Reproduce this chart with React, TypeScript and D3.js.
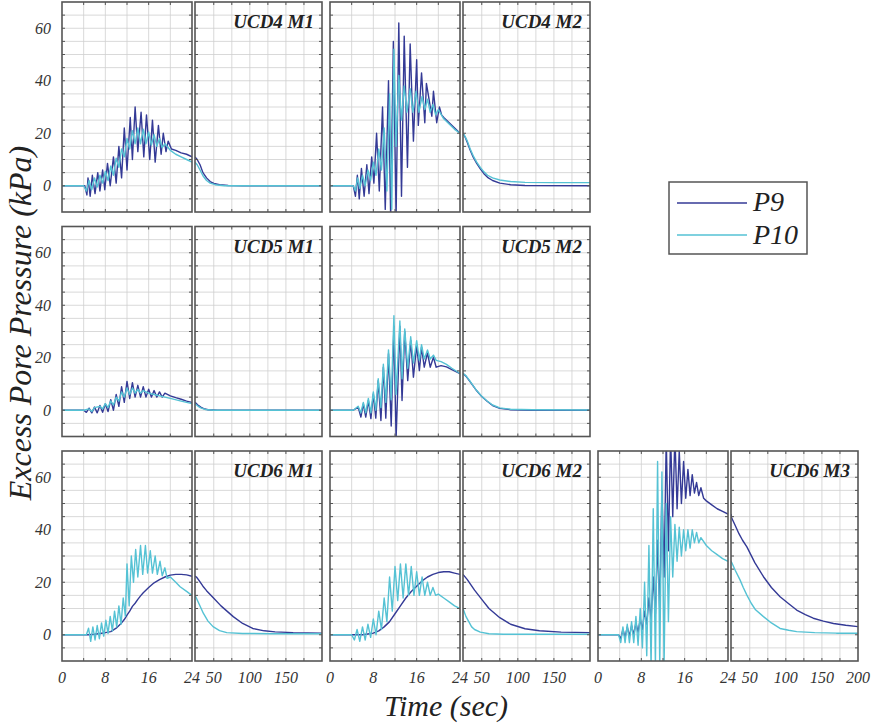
import React from 'react';
import * as d3 from 'd3';

type Pt = [number, number];

// ---------- axis / label data ----------
const Y_TICKS = [0, 20, 40, 60];
const X_TICKS_LEFT = [0, 8, 16, 24];
const X_TICKS_RIGHT = [50, 100, 150];
const X_TICKS_RIGHT_LAST = [50, 100, 150, 200];
const SERIES_NAMES = ['P9', 'P10'];
const PANEL_NAMES = ['UCD4 M1', 'UCD4 M2', 'UCD5 M1', 'UCD5 M2', 'UCD6 M1', 'UCD6 M2', 'UCD6 M3'];
const Y_TITLE = 'Excess Pore Pressure (kPa)';
const X_TITLE = 'Time (sec)';

// ---------- series data: [time (s), excess pore pressure (kPa)] ----------
const UCD4_M1_P9: Pt[] = [
  [0, 0], [4.2, 0], [4.6, -3.5], [4.8, 3], [5.2, -4], [5.6, 4], [6.1, -3], [6.6, 5], [7.0, -2], [7.5, 6],
  [7.9, -1.5], [8.4, 8.5], [8.9, 0], [9.5, 11], [10.0, 1], [10.5, 15], [11.0, 3], [11.5, 22], [12.0, 6],
  [12.6, 26], [13.0, 10], [13.5, 30], [14.0, 13], [14.6, 28], [15.1, 11], [15.6, 27], [16.2, 10], [16.7, 25],
  [17.2, 9], [17.8, 23], [18.3, 12], [18.7, 20], [19.2, 13], [19.6, 17], [20.2, 14], [21, 13.5], [22, 12.5],
  [23, 12], [24, 11], [27, 10], [31, 8], [35, 5], [40, 3], [45, 1.6], [50, 0.9], [58, 0.4], [70, 0.1], [90, 0], [200, 0],
];
const UCD4_M1_P10: Pt[] = [
  [0, 0], [4, 0], [4.5, -2], [5, 2], [5.5, -1.5], [6, 3], [6.5, -0.5], [7, 4], [7.5, 1], [8, 5.5], [8.5, 2],
  [9, 7.5], [9.5, 4], [10, 10.5], [10.5, 7], [11, 14], [11.5, 11], [12, 18], [12.5, 14], [13, 21], [13.5, 16],
  [14, 22], [14.5, 16], [15, 21.5], [15.5, 16], [16, 20.5], [16.5, 15.5], [17, 19.5], [17.5, 15], [18, 18],
  [18.5, 14.5], [19, 16], [20, 13.5], [21, 12], [22, 11], [23, 10], [24, 9], [27, 8], [31, 6], [35, 3.8],
  [40, 2], [45, 1], [52, 0.4], [65, 0], [200, 0],
];
const UCD4_M2_P9: Pt[] = [
  [0, 0], [4.3, 0], [4.7, -4], [5.05, 4], [5.4, -5], [5.8, 6.6], [6.3, -4], [6.8, 8], [7.2, -3], [7.7, 11],
  [8.1, 1], [8.6, 20], [9.1, -2], [9.7, 30], [10.2, -9], [10.8, 40], [11.2, -12], [11.7, 55], [12.2, -12],
  [12.7, 62], [13.2, -4], [13.7, 57], [14.3, 7], [14.8, 54], [15.4, 17], [16.0, 48], [16.3, 23], [16.9, 43],
  [17.5, 24], [17.8, 39], [18.8, 26.5], [19.1, 36], [19.7, 24], [20.2, 30], [20.6, 27], [21, 26], [22, 24],
  [23, 22], [24, 20], [27, 18.5], [30, 16.5], [34, 13.5], [38, 11], [43, 8.5], [48, 6.4], [53, 4.6], [58, 3.2],
  [65, 2], [75, 1], [90, 0.4], [110, 0.1], [200, 0],
];
const UCD4_M2_P10: Pt[] = [
  [0, 0], [4.3, 0], [4.7, -2], [5.1, 3], [5.5, -1], [6, 4], [6.5, 0], [7, 6], [7.5, 2], [8, 9], [8.5, 4],
  [9, 14], [9.5, 6], [10, 22], [10.5, -2], [11, 35], [11.4, -9], [11.8, 52], [12.2, 15], [12.7, 42], [13.2, 25],
  [13.7, 38], [14.2, 28], [14.8, 37], [15.3, 28], [15.9, 36], [16.4, 28], [17, 34], [17.5, 29], [18, 33],
  [18.5, 28], [19, 31], [19.5, 27], [20, 29], [21, 25.5], [22, 23.5], [23, 21.5], [24, 20], [27, 18.7],
  [30, 17], [34, 14], [38, 11.5], [43, 9], [48, 7], [53, 5.3], [58, 4], [65, 3], [75, 2.2], [90, 1.6],
  [110, 1.3], [150, 1.2], [200, 1.2],
];
const UCD5_M1_P9: Pt[] = [
  [0, 0], [4, 0], [4.5, -0.8], [5, 0.8], [5.5, -1], [6, 1.2], [6.5, -1], [7, 1.8], [7.5, -0.8], [8, 2.5],
  [8.5, -0.5], [9, 4], [9.5, 0], [10, 6], [10.5, 1.5], [11, 9], [11.5, 3], [12, 11], [12.5, 4.5], [13, 10.5],
  [13.5, 5], [14, 9.5], [14.5, 5], [15, 9], [15.5, 5], [16, 8], [16.5, 5], [17, 7.5], [17.5, 5], [18, 7],
  [18.5, 5], [19, 6.5], [20, 5.5], [21, 4.8], [22, 4.2], [23, 3.5], [24, 3], [28, 2], [32, 1.2], [36, 0.6],
  [42, 0.2], [55, 0], [200, 0],
];
const UCD5_M1_P10: Pt[] = [
  [0, 0], [4, 0], [5, 0.5], [5.5, -0.5], [6, 1], [7, 1.5], [7.5, 0.5], [8, 2.5], [8.5, 1], [9, 3.5], [9.5, 2],
  [10, 5], [10.5, 3.5], [11, 7], [11.5, 5], [12, 8.5], [12.5, 6], [13, 8.5], [13.5, 6.5], [14, 8], [14.5, 6.5],
  [15, 7.5], [16, 6.5], [17, 6], [18, 5.5], [19, 5], [20, 4.5], [22, 3.5], [24, 2.5], [28, 1.6], [32, 0.9],
  [38, 0.3], [50, 0], [200, 0],
];
const UCD5_M2_P9: Pt[] = [
  [0, 0], [4.3, 0], [5.2, 1.2], [5.7, -2.6], [6.15, 2.4], [6.6, -2.6], [7.08, 3.7], [7.55, -3.2], [8.0, 6.2],
  [8.45, -3], [8.9, 11.3], [9.4, -3.9], [9.85, 16.4], [10.3, -3], [10.8, 21.5], [11.3, -6], [11.8, 32],
  [12.2, -11], [12.9, 32], [13.3, 3.7], [13.8, 30], [14.35, 11.3], [14.9, 26.6], [15.4, 12.6], [16, 24.7],
  [16.5, 15.1], [16.9, 24], [17.4, 16.4], [18, 22], [18.5, 16.4], [19.1, 20.2], [19.6, 16.4], [20.5, 17],
  [21.5, 16.5], [22.5, 15.5], [24, 14], [28, 13], [33, 11.2], [38, 9.3], [43, 7.4], [50, 5.2], [57, 3.5],
  [65, 1.8], [75, 0.7], [90, 0.2], [120, 0], [200, 0],
];
const UCD5_M2_P10: Pt[] = [
  [0, 0], [4.3, 0], [5.2, 1.5], [5.7, -1], [6.15, 3], [6.6, -1], [7.08, 4.5], [7.55, -1], [8.0, 7], [8.45, 0],
  [8.9, 12], [9.4, 1], [9.85, 17.5], [10.3, 3], [10.8, 23], [11.3, 4], [11.8, 36], [12.2, 6], [12.9, 34],
  [13.3, 12], [13.8, 31], [14.35, 16], [14.9, 28], [15.4, 18], [16, 26.5], [16.5, 19], [16.9, 25], [17.4, 19.5],
  [18, 23], [18.5, 19.5], [19.1, 21], [19.6, 19], [20.5, 18.5], [21.5, 17.5], [22.5, 16], [24, 14], [28, 13.2],
  [33, 11.4], [38, 9.4], [43, 7.5], [50, 5.3], [57, 3.6], [65, 2], [75, 0.9], [90, 0.4], [120, 0.2], [200, 0.1],
];
const UCD6_M1_P9: Pt[] = [
  [0, 0], [5, 0], [6, 0.2], [7, 0.5], [8, 0.8], [9, 1.2], [10, 2.5], [11, 4.5], [11.5, 5.8], [12, 7.5],
  [12.5, 9], [13, 10.8], [13.5, 12], [14, 13.5], [14.5, 14.8], [15, 16], [16, 18], [17, 19.8], [18, 21],
  [19, 22], [20, 22.7], [21, 23], [22, 23], [23, 22.8], [24, 22.3], [26, 22], [30, 20.5], [35, 18.5],
  [40, 16.8], [49, 14.2], [60, 11], [77, 6.9], [90, 4.3], [104, 2.4], [120, 1.5], [135, 1.1], [160, 0.8], [200, 0.6],
];
const UCD6_M1_P10: Pt[] = [
  [0, 0], [4.5, 0], [4.9, 2.5], [5.3, -2.5], [5.7, 3], [6.1, -2], [6.5, 3.5], [6.9, -1.5], [7.3, 4.5],
  [7.7, -0.5], [8.1, 5.5], [8.5, 0.5], [8.9, 7], [9.3, 1.5], [9.7, 9], [10.1, 3], [10.5, 11], [10.9, 4],
  [11.3, 14], [11.7, 7], [12.0, 27], [12.4, 11], [12.8, 30], [13.2, 20], [13.6, 32.5], [14.0, 22], [14.5, 34],
  [14.9, 23], [15.4, 34], [15.8, 23.5], [16.3, 32], [16.7, 23.5], [17.2, 30], [17.6, 23], [18.1, 28],
  [18.5, 22.5], [19, 25.5], [19.4, 21.5], [20, 22], [21, 20], [21.8, 18.3], [23, 16.5], [24, 15], [26, 13.9],
  [30, 11.5], [35.5, 8.2], [42, 5.2], [49, 3.1], [58, 1.6], [68, 0.8], [90, 0.5], [130, 0.4], [200, 0.4],
];
const UCD6_M2_P9: Pt[] = [
  [0, 0], [6, 0], [7, 0.3], [8, 0.6], [9, 1.5], [10, 3], [11, 5], [12, 8], [13, 11], [14, 14], [15, 16.5],
  [16, 18.5], [17, 20.5], [18, 22], [19, 23], [20, 23.7], [21, 24], [22, 24], [23, 23.5], [24, 23], [30, 21],
  [40, 17], [50, 13.5], [60, 10], [75, 6.5], [90, 4], [110, 2.3], [130, 1.5], [160, 1], [200, 0.8],
];
const UCD6_M2_P10: Pt[] = [
  [0, 0], [4, 0], [4.5, -2], [5, 2], [5.5, -2.5], [6, 3], [6.5, -2], [7, 4], [7.5, -1], [8, 6], [8.5, 0],
  [9, 9], [9.5, 2], [10, 14], [10.5, 5], [11, 22], [11.5, 9], [12, 26], [12.5, 13], [13, 27], [13.5, 14],
  [14, 27], [14.5, 15], [15, 26], [15.5, 15], [16, 24], [16.5, 15], [17, 22], [17.5, 15], [18, 20], [18.5, 15],
  [19, 18], [19.5, 15], [20, 15.5], [21, 14], [22, 12.5], [23, 11], [24, 10], [28, 7], [32, 5], [36, 3],
  [40, 2], [48, 1], [60, 0.4], [80, 0.2], [200, 0.2],
];
const UCD6_M3_P9: Pt[] = [
  [0, 0], [3.8, 0], [4.2, -1.5], [4.6, 2], [5.0, -1], [5.4, 3], [5.8, -0.5], [6.2, 3.5], [6.6, 0], [7, 4.5],
  [7.4, 1], [7.8, 6], [8.2, 2], [8.6, 9], [9, 4], [9.4, 14], [9.8, 6], [10.2, 22], [10.6, 8], [11, 36],
  [11.4, 9], [11.8, 55], [12.2, 22], [12.6, 75], [13, 32], [13.4, 76], [13.8, 45], [14.2, 76], [14.6, 48],
  [15, 70], [15.4, 50], [15.8, 66], [16.2, 52], [16.6, 63], [17, 53], [17.4, 61], [17.8, 54], [18.2, 58],
  [18.6, 53], [19, 56], [19.5, 52], [20, 51], [21, 49.5], [22, 48], [23, 47], [24, 46], [25, 44.5], [30, 41.5],
  [35, 38.5], [40, 36], [46, 33.5], [57, 27.5], [69, 22.1], [80, 18], [92, 14.5], [104, 11.8], [115, 9.4],
  [127, 7.7], [138, 6.3], [152, 5.2], [166, 4.3], [183, 3.6], [200, 3.1],
];
const UCD6_M3_P10: Pt[] = [
  [0, 0], [3.8, 0], [4.2, -3], [4.6, 3], [5.0, -3], [5.4, 4], [5.8, -3], [6.2, 5], [6.6, -3], [7, 7],
  [7.4, -4], [7.8, 10], [8.2, -5], [8.6, 20], [9, -8], [9.4, 34], [9.8, -12], [10.2, 48], [10.6, -12],
  [11, 66], [11.4, -12], [11.8, 62], [12.2, -12], [12.6, 50], [13, 5], [13.4, 45], [13.8, 22], [14.2, 42],
  [14.6, 28], [15, 41], [15.4, 30], [15.8, 40], [16.2, 32], [16.6, 40], [17, 33], [17.4, 40], [17.8, 35],
  [18.2, 39], [18.6, 35], [19, 37], [20, 34], [21, 32], [22, 30.5], [23, 29], [24, 28], [25, 27.5], [30, 24.5],
  [36.5, 20.9], [41, 18], [46, 15.1], [52, 12], [58, 9.5], [69, 6.9], [80, 4.5], [92, 2.4], [104, 1.7],
  [115, 1.2], [140, 0.8], [170, 0.6], [200, 0.6],
];

const P9_COLOR = '#343a96';
const P10_COLOR = '#55c2d4';

const fontShort = (size: number, bold = false) =>
  ({ font: `italic ${bold ? 'bold ' : ''}${size}px 'Liberation Serif', serif` });

export default function App() {
  const W = 878, H = 724;
  const colX0 = [62, 330, 598];
  const rowY0 = [2, 226.5, 451];
  const leftW = 130, gap = 3, rightW = 127, panelH = 210;

  const panels = [
    { name: PANEL_NAMES[0], row: 0, col: 0, s: [UCD4_M1_P9, UCD4_M1_P10] },
    { name: PANEL_NAMES[1], row: 0, col: 1, s: [UCD4_M2_P9, UCD4_M2_P10] },
    { name: PANEL_NAMES[2], row: 1, col: 0, s: [UCD5_M1_P9, UCD5_M1_P10] },
    { name: PANEL_NAMES[3], row: 1, col: 1, s: [UCD5_M2_P9, UCD5_M2_P10] },
    { name: PANEL_NAMES[4], row: 2, col: 0, s: [UCD6_M1_P9, UCD6_M1_P10] },
    { name: PANEL_NAMES[5], row: 2, col: 1, s: [UCD6_M2_P9, UCD6_M2_P10] },
    { name: PANEL_NAMES[6], row: 2, col: 2, s: [UCD6_M3_P9, UCD6_M3_P10] },
  ];
  const colors = [P9_COLOR, P10_COLOR];
  const yGrid = d3.range(-5, 70, 5);
  const xGridL = d3.range(4, 24, 4);
  const xGridR = d3.range(50, 200, 25);

  const frame = '#555';
  const grid = '#cfcfcf';

  return (
    <svg width={W} height={H} style={{ position: 'absolute', left: 0, top: 0, background: '#fff' }}>
      <rect x={0} y={0} width={W} height={H} fill="#fff" />
      <defs>
        {panels.map((p, i) => {
          const x0 = colX0[p.col], y0 = rowY0[p.row];
          return (
            <React.Fragment key={i}>
              <clipPath id={`cl${i}`}><rect x={x0} y={y0} width={leftW} height={panelH} /></clipPath>
              <clipPath id={`cr${i}`}><rect x={x0 + leftW + gap} y={y0} width={rightW} height={panelH} /></clipPath>
            </React.Fragment>
          );
        })}
      </defs>
      {panels.map((p, i) => {
        const x0 = colX0[p.col], y0 = rowY0[p.row];
        const xL = d3.scaleLinear().domain([0, 24]).range([x0, x0 + leftW]);
        const xR = d3.scaleLinear().domain([24, 200]).range([x0 + leftW + gap, x0 + leftW + gap + rightW]);
        const y = d3.scaleLinear().domain([-10, 70]).range([y0 + panelH, y0]);
        const lineL = d3.line<Pt>().x(d => xL(d[0])).y(d => y(d[1]));
        const lineR = d3.line<Pt>().x(d => xR(d[0])).y(d => y(d[1]));
        const subs = [
          { x: xL, grid: xGridL, line: lineL, clip: `cl${i}`, filt: (d: Pt) => d[0] <= 24, a: x0, w: leftW },
          { x: xR, grid: xGridR, line: lineR, clip: `cr${i}`, filt: (d: Pt) => d[0] >= 24, a: x0 + leftW + gap, w: rightW },
        ];
        return (
          <g key={i}>
            {subs.map((sb, j) => (
              <g key={j}>
                {yGrid.map(v => (
                  <line key={'h' + v} x1={sb.a} x2={sb.a + sb.w} y1={y(v)} y2={y(v)} stroke={grid} strokeWidth={0.8} />
                ))}
                {sb.grid.map(v => (
                  <line key={'v' + v} x1={sb.x(v)} x2={sb.x(v)} y1={y0} y2={y0 + panelH} stroke={grid} strokeWidth={0.8} />
                ))}
                <g clipPath={`url(#${sb.clip})`}>
                  {p.s.map((ser, k) => (
                    <path key={k} d={sb.line(ser.filter(sb.filt)) || ''} fill="none" stroke={colors[k]}
                      strokeWidth={1.4} strokeLinejoin="round" />
                  ))}
                </g>
                {yGrid.map(v => (
                  <g key={'t' + v}>
                    <line x1={sb.a} x2={sb.a + 3} y1={y(v)} y2={y(v)} stroke={frame} strokeWidth={1} />
                    <line x1={sb.a + sb.w - 3} x2={sb.a + sb.w} y1={y(v)} y2={y(v)} stroke={frame} strokeWidth={1} />
                  </g>
                ))}
                {sb.grid.map(v => (
                  <g key={'u' + v}>
                    <line x1={sb.x(v)} x2={sb.x(v)} y1={y0} y2={y0 + 3} stroke={frame} strokeWidth={1} />
                    <line x1={sb.x(v)} x2={sb.x(v)} y1={y0 + panelH - 3} y2={y0 + panelH} stroke={frame} strokeWidth={1} />
                  </g>
                ))}
                <rect x={sb.a} y={y0} width={sb.w} height={panelH} fill="none" stroke={frame} strokeWidth={1.6} />
              </g>
            ))}
          </g>
        );
      })}
      {panels.map((p, i) => {
        const x0 = colX0[p.col], y0 = rowY0[p.row];
        return (
          <text key={'n' + i} x={x0 + leftW + gap + rightW - 8} y={y0 + 26} textAnchor="end"
            style={fontShort(19, true)} fill="#222">{p.name}</text>
        );
      })}
      {rowY0.map((y0, r) => {
        const y = d3.scaleLinear().domain([-10, 70]).range([y0 + panelH, y0]);
        return Y_TICKS.map(v => (
          <text key={'yl' + r + '-' + v} x={51} y={y(v) + 5.5} textAnchor="end"
            style={fontShort(16)} fill="#333">{v}</text>
        ));
      })}
      {colX0.map((x0, c) => {
        const xL = d3.scaleLinear().domain([0, 24]).range([x0, x0 + leftW]);
        const xR = d3.scaleLinear().domain([24, 200]).range([x0 + leftW + gap, x0 + leftW + gap + rightW]);
        const rt = c === 2 ? X_TICKS_RIGHT_LAST : X_TICKS_RIGHT;
        return (
          <g key={'xc' + c}>
            {X_TICKS_LEFT.map(v => (
              <text key={'xl' + v} x={xL(v)} y={683} textAnchor="middle" style={fontShort(16)} fill="#333">{v}</text>
            ))}
            {rt.map(v => (
              <text key={'xr' + v} x={xR(v)} y={683} textAnchor="middle" style={fontShort(16)} fill="#333">{v}</text>
            ))}
          </g>
        );
      })}
      <text transform="translate(31,323) rotate(-90)" textAnchor="middle" style={fontShort(32)} fill="#222">{Y_TITLE}</text>
      <text x={446} y={716} textAnchor="middle" style={fontShort(30)} fill="#222">{X_TITLE}</text>
      <g>
        <rect x={669} y={182} width={138} height={72} fill="#fff" stroke={frame} strokeWidth={1.5} />
        {SERIES_NAMES.map((n, k) => (
          <g key={n}>
            <line x1={677} x2={747} y1={203 + k * 32} y2={203 + k * 32} stroke={colors[k]} strokeWidth={1.5} />
            <text x={753} y={211 + k * 33} style={fontShort(28)} fill="#222">{n}</text>
          </g>
        ))}
      </g>
    </svg>
  );
}
